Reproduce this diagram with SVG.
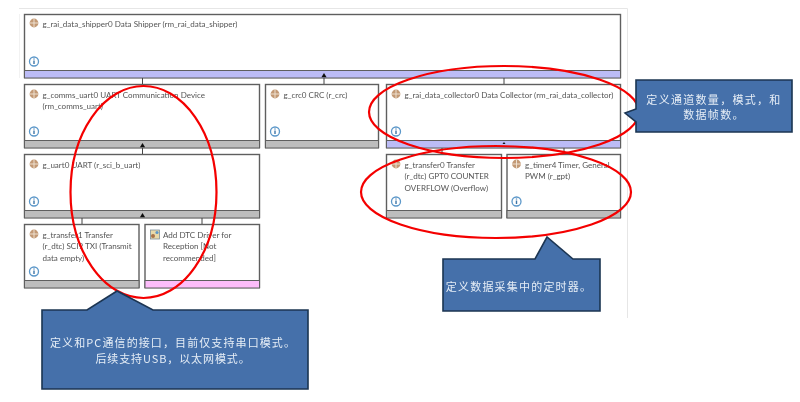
<svg xmlns="http://www.w3.org/2000/svg" xmlns:xlink="http://www.w3.org/1999/xlink" width="800" height="402" viewBox="0 0 800 402">
<style>
.box{fill:#fff;stroke:#5f5f5f;stroke-width:1.4}
.bar{stroke:#5f5f5f;stroke-width:1}
.gray{fill:#bdbdbd}.pur{fill:#bcbcf6}.pink{fill:#fdbdfa}
.t{font:8.05px Lato,"Noto Sans",sans-serif;fill:#555}
.c{font:11px "Noto Sans CJK SC",sans-serif;fill:#e6edf6;text-anchor:middle}
.call{fill:#4470aa;stroke:#1c3552;stroke-width:1.6;stroke-linejoin:miter}
.ell{fill:none;stroke:#f40000;stroke-width:2.2}
.ln{stroke:#444;stroke-width:1;fill:none}
</style>
<defs>
<filter id="soft" x="-2%" y="-2%" width="104%" height="104%"><feGaussianBlur stdDeviation="0.35"/></filter>
<g id="chip"><circle cx="0" cy="0" r="4.400" fill="#c39a76"/><path d="M-4.400 0H4.400M0-4.400V4.400" stroke="#f2e6d8" stroke-width="0.9"/></g>
<g id="info"><circle cx="0" cy="0" r="4.500" fill="#fff" stroke="#5b97c9" stroke-width="1.300"/><path d="M0-1V2.600M0-3V-2" stroke="#3d76a8" stroke-width="1.400"/></g>
<path id="up" d="M-2.600 2.200H2.600L0-2Z" fill="#111"/>
</defs>
<g id="panel" fill="none" stroke="#e6e6e6" stroke-width="1">
<path d="M19 8.500H627.500V318"/>
<path d="M19.500 14V78" stroke="#f2f2f2"/>
</g>
<g filter="url(#soft)">
<g id="shipper">
<rect class="box" x="24.500" y="14.500" width="596" height="63"/><rect class="bar pur" x="24.500" y="70.500" width="596" height="7.500"/>
<use href="#chip" x="34" y="23"/><use href="#info" x="34" y="61.500"/>
<text class="t" x="42.500" y="27">g_rai_data_shipper0 Data Shipper (rm_rai_data_shipper)</text>
</g>
<g id="comms">
<rect class="box" x="24.500" y="84.500" width="235" height="63"/><rect class="bar gray" x="24.500" y="140.500" width="235" height="7.500"/>
<use href="#chip" x="34" y="94"/><use href="#info" x="34" y="131.500"/>
<text class="t" x="42.500" y="97.500">g_comms_uart0 UART Communication Device</text>
<text class="t" x="42.500" y="109">(rm_comms_uart)</text>
</g>
<g id="crc">
<rect class="box" x="265.500" y="84.500" width="113" height="63"/><rect class="bar gray" x="265.500" y="140.500" width="113" height="7.500"/>
<use href="#chip" x="275" y="94"/><use href="#info" x="275" y="131.500"/>
<text class="t" x="283.500" y="97.500">g_crc0 CRC (r_crc)</text>
</g>
<g id="uart">
<rect class="box" x="24.500" y="154.500" width="235" height="63"/><rect class="bar gray" x="24.500" y="210.500" width="235" height="7.500"/>
<use href="#chip" x="34" y="164"/><use href="#info" x="34" y="201.500"/>
<text class="t" x="42.500" y="167.500">g_uart0 UART (r_sci_b_uart)</text>
</g>
<g id="transfer1">
<rect class="box" x="24.500" y="224.500" width="114.500" height="63"/><rect class="bar gray" x="24.500" y="280.500" width="114.500" height="7.500"/>
<use href="#chip" x="34" y="234"/><use href="#info" x="34" y="271.500"/>
<text class="t" x="42.500" y="237.500">g_transfer1 Transfer</text>
<text class="t" x="42.500" y="249">(r_dtc) SCI9 TXI (Transmit</text>
<text class="t" x="42.500" y="260.500">data empty)</text>
</g>
<g id="dtc">
<rect class="box" x="145" y="224.500" width="114.500" height="63"/><rect class="bar pink" x="145" y="280.500" width="114.500" height="7.500"/>
<rect x="150.500" y="230" width="9" height="9" fill="#e9d9a8" stroke="#7d8f9c" stroke-width="0.8"/><circle cx="153" cy="236" r="2" fill="#a8734a"/><circle cx="157" cy="232.500" r="1.600" fill="#5b97c9"/>
<text class="t" x="163" y="237.500">Add DTC Driver for</text>
<text class="t" x="163" y="249">Reception [Not</text>
<text class="t" x="163" y="260.500">recommended]</text>
</g>
<g id="collector">
<rect class="box" x="386.500" y="84.500" width="234" height="63"/><rect class="bar pur" x="386.500" y="140.500" width="234" height="7.500"/>
<use href="#chip" x="396" y="94"/><use href="#info" x="396" y="131.500"/>
<text class="t" x="404.500" y="97.500">g_rai_data_collector0 Data Collector (rm_rai_data_collector)</text>
</g>
<g id="transfer0">
<rect class="box" x="386.500" y="154.500" width="115" height="63"/><rect class="bar gray" x="386.500" y="210.500" width="115" height="7.500"/>
<use href="#chip" x="396" y="164"/><use href="#info" x="396" y="201.500"/>
<text class="t" x="404.500" y="167.500">g_transfer0 Transfer</text>
<text class="t" x="404.500" y="179">(r_dtc) GPT0 COUNTER</text>
<text class="t" x="404.500" y="190.500">OVERFLOW (Overflow)</text>
</g>
<g id="timer">
<rect class="box" x="507" y="154.500" width="113.500" height="63"/><rect class="bar gray" x="507" y="210.500" width="113.500" height="7.500"/>
<use href="#chip" x="516.500" y="164"/><use href="#info" x="516.500" y="201.500"/>
<text class="t" x="525" y="167.500">g_timer4 Timer, General</text>
<text class="t" x="525" y="179">PWM (r_gpt)</text>
</g>
<g id="connectors">
<path class="ln" d="M142.500 78V84M142.500 148V154M82 218V224M202 218V224M324 78V84M504 78V84M442 148V154M564 148V154"/>
<use href="#up" x="324" y="75"/>
<use href="#up" x="142.500" y="145"/>
<use href="#up" x="142.500" y="215"/>
<path d="M502.500 144H505.500L504 142Z" fill="#111"/>
</g>
<g id="ellipses">
<ellipse class="ell" cx="143.500" cy="192" rx="73" ry="106"/>
<ellipse class="ell" cx="504" cy="112" rx="135" ry="46"/>
<ellipse class="ell" cx="496" cy="192" rx="135" ry="46"/>
</g>
<g id="callout-left">
<path class="call" d="M42 310H87L117 291L153 310H308V389H42Z"/>
<text class="c" x="173" y="347" letter-spacing="1.100">定义和PC通信的接口，目前仅支持串口模式。</text>
<text class="c" x="173" y="363" letter-spacing="0.9">后续支持USB，以太网模式。</text>
</g>
<g id="callout-mid">
<path class="call" d="M443 259H535L547 237L573 259H600V311H443Z"/>
<text class="c" x="519" y="291" letter-spacing="1.200">定义数据采集中的定时器。</text>
</g>
<g id="callout-right">
<path class="call" d="M636 80H792V132H636V122L625 113L636 109Z"/>
<text class="c" x="714" y="104" letter-spacing="1.300">定义通道数量，模式，和</text>
<text class="c" x="714" y="119" letter-spacing="1.300">数据帧数。</text>
</g>
</g>
</svg>
